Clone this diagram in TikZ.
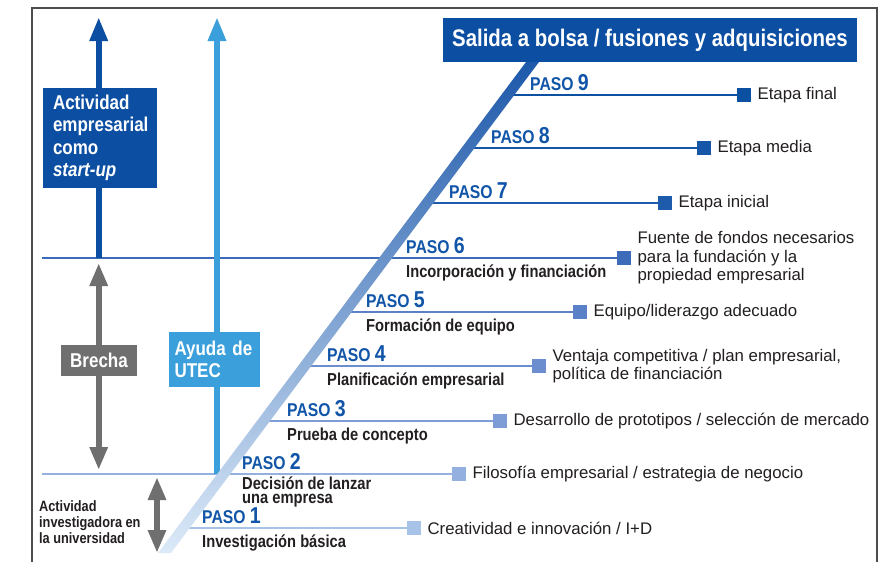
\documentclass[tikz,border=0pt]{standalone}
\usepackage{fontspec}
\setmainfont{Liberation Sans}
\newfontfamily\cb[FakeStretch=0.85]{Liberation Sans}
\usetikzlibrary{arrows.meta}
\definecolor{dblue}{HTML}{0B4EA2}
\definecolor{lblue}{HTML}{3A9FDB}
\definecolor{gbox}{HTML}{6F6F6F}
\definecolor{framecol}{HTML}{4D4D4D}
\definecolor{pasoblue}{HTML}{1155A8}
\definecolor{txtdark}{HTML}{231F20}
\definecolor{s1}{HTML}{A8C3E8}
\definecolor{s2}{HTML}{93B0DF}
\definecolor{s3}{HTML}{7E9DD6}
\definecolor{s4}{HTML}{6C8ECF}
\definecolor{s5}{HTML}{5A80C8}
\definecolor{s6}{HTML}{3C6CB9}
\definecolor{s7}{HTML}{1E5BAD}
\definecolor{s8}{HTML}{1556A8}
\definecolor{s9}{HTML}{0C50A1}
\definecolor{bandtop}{HTML}{1D58AA}
\definecolor{bandbot}{HTML}{DCEAF8}
\newcommand\pasotxt[1]{{\fontsize{18.5}{18}\selectfont PASO\ }{\fontsize{23}{22}\selectfont #1}}
\tikzset{
  pasolbl/.style={anchor=base west, inner sep=0pt, text=pasoblue, font=\cb\bfseries},
  sublbl/.style={anchor=base west, inner sep=0pt, text=txtdark, align=left, font=\cb\bfseries\fontsize{17.3}{14}\selectfont},
  rtxt/.style={anchor=west, inner sep=0pt, text=txtdark, align=left, font=\fontsize{16.8}{18.5}\selectfont},
  sqbox/.style={minimum size=14pt, inner sep=0pt, anchor=west},
  bigarrow/.style={line width=6pt, -{Triangle[width=17pt,length=24pt]}},
  dblarrow/.style={line width=6pt, {Triangle[width=17pt,length=23pt]}-{Triangle[width=17pt,length=23pt]}},
  stepline/.style={line width=1.4pt},
  whitebox/.style={inner sep=0pt, text=white, font=\cb\bfseries\fontsize{20}{22.5}\selectfont, align=left}
}
\begin{document}
\begin{tikzpicture}[x=1pt,y=-1pt]
\useasboundingbox (0,0) rectangle (893,562);
\fill[white] (0,0) rectangle (893,562);
% frame
\draw[framecol, line width=1.5pt] (32,562) -- (32,8) -- (877,8) -- (877,562);

% step lines and squares
\foreach \i/\y/\st/\sx in {1/528/183/407, 2/474/42/452, 3/421/263.5/493, 4/366/304.8/532, 5/312/345/573, 6/258/42/617, 7/203/427/658, 8/148/468/697, 9/95/508/737}{
  \coordinate (st\i) at (\st,\y);
  \node[sqbox, fill=s\i] (sq\i) at (\sx,\y) {};
  \draw[s\i, stepline] (st\i) -- (sq\i.west);
}

% vertical arrows
\coordinate (a1s) at (98.7,258);
\coordinate (a1e) at (98.7,17);
\draw[dblue, bigarrow] (a1s) -- (a1e);
\coordinate (a2s) at (217,474);
\coordinate (a2e) at (217,17);
\draw[lblue, bigarrow] (a2s) -- (a2e);
\coordinate (g1s) at (98.7,263);
\coordinate (g1e) at (98.7,470);
\draw[gbox, dblarrow] (g1s) -- (g1e);
\coordinate (g2s) at (157,477);
\coordinate (g2e) at (157,553);
\draw[gbox, dblarrow] (g2s) -- (g2e);

% diagonal band
\shade[top color=bandtop, middle color=s4, bottom color=bandbot]
  (158,553) -- (171,553) -- (539,62) -- (526,62) -- cycle;

% title
\node[fill=dblue, text=white, minimum width=414pt, minimum height=44pt, inner sep=0pt,
      font=\cb\bfseries\fontsize{24}{24}\selectfont] (title) at (650,40) {Salida a bolsa / fusiones y adquisiciones};

% left boxes
\node[whitebox, fill=dblue, minimum width=114pt, minimum height=100pt, text width=94pt] (startup) at (100,138)
  {Actividad\\empresarial\\como\\\itshape start-up};
\node[whitebox, fill=gbox, minimum width=76pt, minimum height=31pt, align=center] (brecha) at (99,360.5) {Brecha};
\node[whitebox, fill=lblue, minimum width=91pt, minimum height=55pt, text width=80pt] (utec) at (214.5,359.5)
  {Ayuda de\\UTEC};
\node[anchor=base west, inner sep=0pt, align=left, text=txtdark, font=\cb\bfseries\fontsize{15}{15.7}\selectfont] (univ) at (39,543)
  {Actividad\\investigadora en\\la universidad};

% PASO labels
\node[pasolbl] (p1) at (202,523.5) {\pasotxt{1}};
\node[pasolbl] (p2) at (242,469) {\pasotxt{2}};
\node[pasolbl] (p3) at (287,416) {\pasotxt{3}};
\node[pasolbl] (p4) at (327,361) {\pasotxt{4}};
\node[pasolbl] (p5) at (366,307) {\pasotxt{5}};
\node[pasolbl] (p6) at (406,253) {\pasotxt{6}};
\node[pasolbl] (p7) at (449,198) {\pasotxt{7}};
\node[pasolbl] (p8) at (491,143) {\pasotxt{8}};
\node[pasolbl] (p9) at (530,90) {\pasotxt{9}};

% sub labels
\node[sublbl] (b1) at (202,547) {Investigación básica};
\node[sublbl] (b2) at (242,503) {Decisión de lanzar\\una empresa};
\node[sublbl] (b3) at (287,440) {Prueba de concepto};
\node[sublbl] (b4) at (327,385) {Planificación empresarial};
\node[sublbl] (b5) at (366,331) {Formación de equipo};
\node[sublbl] (b6) at (406,277) {Incorporación y financiación};

% right texts
\node[rtxt] (r1) at ([xshift=6pt]sq1.east) {Creatividad e innovación / I+D};
\node[rtxt] (r2) at ([xshift=6pt]sq2.east) {Filosofía empresarial / estrategia de negocio};
\node[rtxt] (r3) at ([xshift=6pt]sq3.east) {Desarrollo de prototipos / selección de mercado};
\node[rtxt] (r4) at ([xshift=6pt]sq4.east) {Ventaja competitiva / plan empresarial,\\política de financiación};
\node[rtxt] (r5) at ([xshift=6pt]sq5.east) {Equipo/liderazgo adecuado};
\node[rtxt] (r6) at ([xshift=6pt]sq6.east) {Fuente de fondos necesarios\\para la fundación y la\\propiedad empresarial};
\node[rtxt] (r7) at ([xshift=6pt]sq7.east) {Etapa inicial};
\node[rtxt] (r8) at ([xshift=6pt]sq8.east) {Etapa media};
\node[rtxt] (r9) at ([xshift=6pt]sq9.east) {Etapa final};
\end{tikzpicture}
\end{document}
